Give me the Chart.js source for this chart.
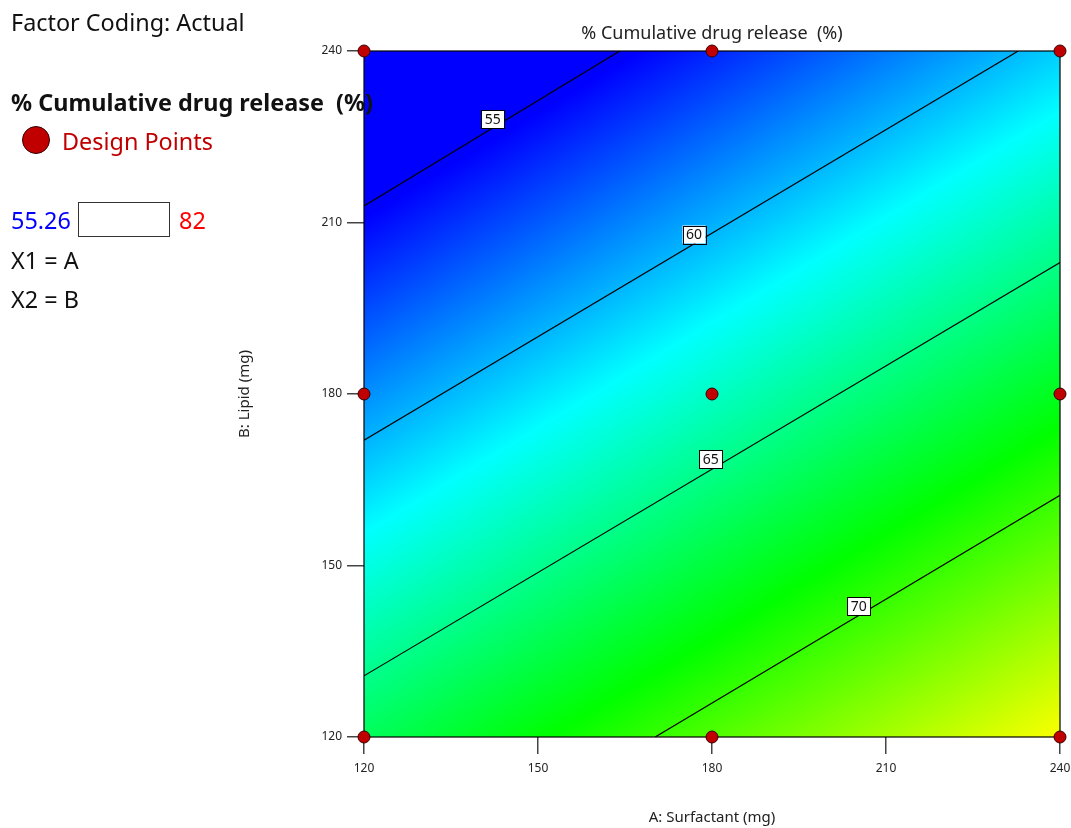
<!DOCTYPE html>
<html>
<head>
<meta charset="utf-8">
<script src="https://cdn.jsdelivr.net/npm/chart.js@4.4.1/dist/chart.umd.min.js"></script>
<style>
  html, body { margin: 0; padding: 0; background: #fff; }
  #wrap { position: relative; width: 1071px; height: 828px; }
  #c { position: absolute; left: 0; top: 0; }
  .t { position: absolute; font-family: "Noto Sans", sans-serif; font-size: 23.4px; color: #111;
       white-space: nowrap; line-height: 1.2; transform: translateY(-50%); }
</style>
</head>
<body>
<div id="wrap">
  <canvas id="c" width="1071" height="828"></canvas>
  <div class="t" style="left:11px; top:22px;">Factor Coding: Actual</div>
  <div class="t" style="left:11px; top:102px; font-weight:bold;">% Cumulative drug release&nbsp; (%)</div>
  <div style="position:absolute; left:22px; top:126px; width:28px; height:28px; border-radius:50%; background:#c00000; border:1px solid #300; box-sizing:border-box;"></div>
  <div class="t" style="left:62px; top:141px; color:#c00000;">Design Points</div>
  <div class="t" style="left:11px; top:220px; color:#0000ff;">55.26</div>
  <div style="position:absolute; left:78px; top:202px; width:92px; height:35px; border:1px solid #333; box-sizing:border-box;"></div>
  <div class="t" style="left:179px; top:220px; color:#ff0000;">82</div>
  <div class="t" style="left:11px; top:260px;">X1 = A</div>
  <div class="t" style="left:11px; top:299px;">X2 = B</div>
</div>
<script>
// axis ticks
const aTicks = [120, 150, 180, 210, 240];
const bTicks = [120, 150, 180, 210, 240];

// design points (A: Surfactant, B: Lipid)
const designA = [120, 180, 240, 120, 180, 240, 120, 180, 240];
const designB = [120, 120, 120, 180, 180, 180, 240, 240, 240];

// contour lines (end points where they meet the frame)
const contourLevels = [55, 60, 65, 70];
const contourStartA = [120, 120, 120, 170.2];
const contourStartB = [212.9, 171.9, 130.7, 120];
const contourEndA = [164.1, 232.8, 240, 240];
const contourEndB = [240, 240, 203.0, 162.3];
const labelA = [142.2, 176.9, 179.8, 205.3];
const labelB = [228.1, 207.9, 168.6, 142.9];

// colour scale range
const colorMin = 55.26;
const colorMax = 82;

const FONT = '"Noto Sans", "Open Sans", sans-serif';

// colour field behind the contours, drawn from the contour geometry
const surfacePlugin = {
  id: 'surface',
  beforeDatasetsDraw(chart) {
    const { ctx, chartArea: ca, scales: { x, y } } = chart;
    const k = contourLevels.length - 1;
    const p1 = [x.getPixelForValue(contourStartA[0]), y.getPixelForValue(contourStartB[0])];
    const p2 = [x.getPixelForValue(contourEndA[0]), y.getPixelForValue(contourEndB[0])];
    const q = [x.getPixelForValue(contourStartA[k]), y.getPixelForValue(contourStartB[k])];
    const len = Math.hypot(p2[0] - p1[0], p2[1] - p1[1]);
    const nx = -(p2[1] - p1[1]) / len;
    const ny = (p2[0] - p1[0]) / len;
    const d = (q[0] - p1[0]) * nx + (q[1] - p1[1]) * ny;
    const perUnit = d / (contourLevels[k] - contourLevels[0]);
    const v0 = contourLevels[0];
    const g = ctx.createLinearGradient(
      p1[0] + nx * perUnit * (colorMin - v0), p1[1] + ny * perUnit * (colorMin - v0),
      p1[0] + nx * perUnit * (colorMax - v0), p1[1] + ny * perUnit * (colorMax - v0));
    g.addColorStop(0, '#0000ff');
    g.addColorStop(0.25, '#00ffff');
    g.addColorStop(0.5, '#00ff00');
    g.addColorStop(0.75, '#ffff00');
    g.addColorStop(1, '#ff0000');

    ctx.save();
    ctx.fillStyle = g;
    ctx.fillRect(ca.left, ca.top, ca.width, ca.height);
    ctx.strokeStyle = 'rgba(0,0,0,0.6)';
    ctx.lineWidth = 2;
    ctx.strokeRect(ca.left, ca.top, ca.width, ca.height);

    // plot title
    ctx.fillStyle = '#222';
    ctx.font = '18px ' + FONT;
    ctx.textAlign = 'center';
    ctx.textBaseline = 'middle';
    ctx.fillText('% Cumulative drug release  (%)', (ca.left + ca.right) / 2, 34);
    ctx.restore();
  },
  afterDatasetDraw(chart, args) {
    if (args.index !== 0) return;
    const { ctx, scales: { x, y } } = chart;
    ctx.save();
    ctx.font = '14px ' + FONT;
    ctx.textAlign = 'center';
    ctx.textBaseline = 'middle';
    contourLevels.forEach((lv, i) => {
      const px = x.getPixelForValue(labelA[i]);
      const py = y.getPixelForValue(labelB[i]);
      const w = ctx.measureText(String(lv)).width + 7;
      const h = 18;
      ctx.fillStyle = '#fff';
      ctx.fillRect(px - w / 2, py - h / 2, w, h);
      ctx.strokeStyle = '#000';
      ctx.lineWidth = 1;
      ctx.strokeRect(Math.round(px - w / 2) + 0.5, Math.round(py - h / 2) + 0.5, Math.round(w), h);
      ctx.fillStyle = '#111';
      ctx.fillText(String(lv), px, py + 1);
    });
    ctx.restore();
  }
};

const datasets = contourLevels.map((lv, i) => ({
  type: 'line',
  label: String(lv),
  data: [{ x: contourStartA[i], y: contourStartB[i] }, { x: contourEndA[i], y: contourEndB[i] }],
  borderColor: '#000',
  borderWidth: 1.2,
  pointRadius: 0,
  fill: false,
  order: 1
}));

datasets.push({
  type: 'scatter',
  label: 'Design Points',
  data: designA.map((a, i) => ({ x: a, y: designB[i] })),
  pointRadius: 6,
  pointHoverRadius: 6,
  backgroundColor: '#c00000',
  borderColor: '#3a0000',
  borderWidth: 1,
  clip: false,
  order: 0
});

new Chart(document.getElementById('c'), {
  data: { datasets: datasets },
  options: {
    responsive: false,
    animation: false,
    layout: { padding: { left: 233, right: 11, top: 51, bottom: 0 } },
    plugins: { legend: { display: false }, tooltip: { enabled: false } },
    scales: {
      x: {
        type: 'linear', min: 120, max: 240,
        afterBuildTicks: s => { s.ticks = aTicks.map(v => ({ value: v })); },
        afterFit: s => { s.height = 91; s.paddingLeft = 0; s.paddingRight = 0; },
        grid: { drawOnChartArea: false, tickLength: 17, color: '#444', lineWidth: 1.5 },
        border: { display: false },
        ticks: { font: { size: 12, family: FONT }, color: '#222', padding: 7, maxRotation: 0, autoSkip: false },
        title: { display: true, text: 'A: Surfactant (mg)', font: { size: 15, family: FONT }, color: '#222', padding: { top: 4, bottom: 1 } }
      },
      y: {
        type: 'linear', min: 120, max: 240,
        afterBuildTicks: s => { s.ticks = bTicks.map(v => ({ value: v })); },
        afterFit: s => { s.width = 131; s.paddingTop = 0; s.paddingBottom = 0; },
        grid: { drawOnChartArea: false, tickLength: 17, color: '#444', lineWidth: 1.5 },
        border: { display: false },
        ticks: { font: { size: 12, family: FONT }, color: '#222', padding: 5, autoSkip: false },
        title: { display: true, text: 'B: Lipid (mg)', font: { size: 15, family: FONT }, color: '#222', padding: { top: 3, bottom: 4 } }
      }
    }
  },
  plugins: [surfacePlugin]
});
</script>
</body>
</html>
